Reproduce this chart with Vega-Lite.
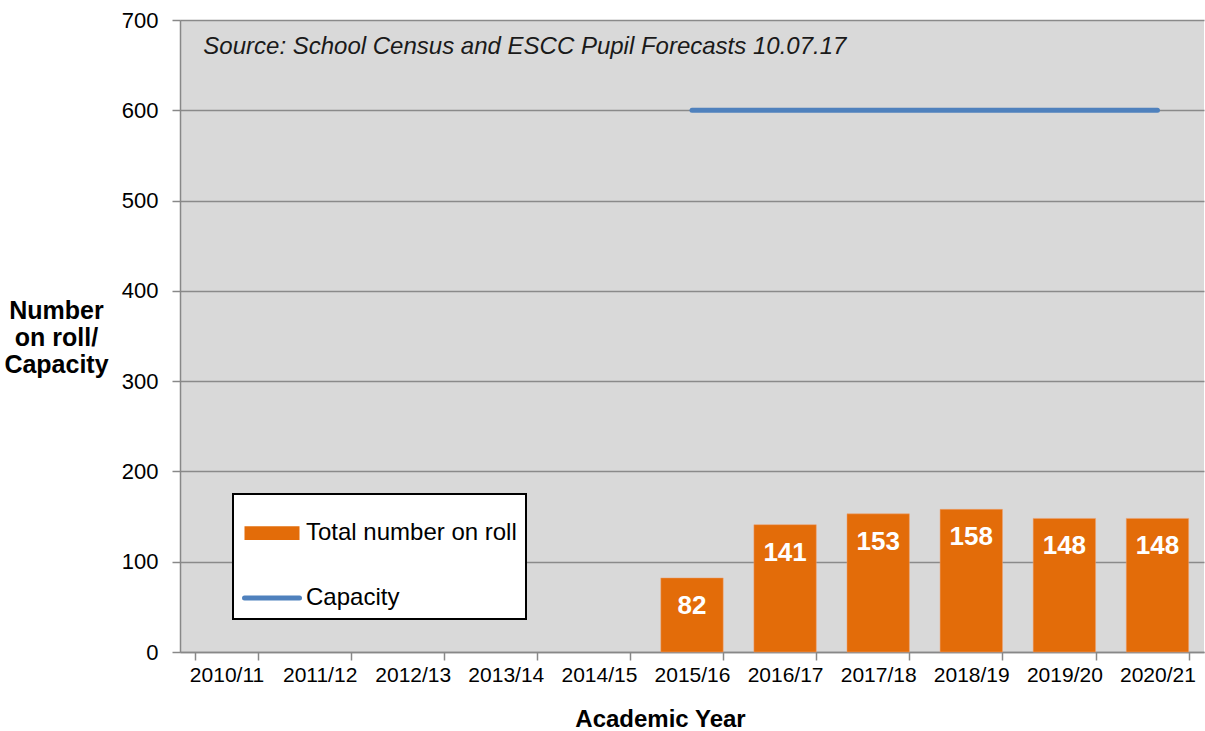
{
  "$schema": "https://vega.github.io/schema/vega-lite/v6.json",
  "width": 1024,
  "height": 632,
  "autosize": {"type": "none"},
  "padding": {"left": 180, "top": 20, "right": 1, "bottom": 79},
  "background": "white",
  "config": {
    "font": "Liberation Sans",
    "view": {"fill": "#D9D9D9", "stroke": null}
  },
  "data": {
    "values": [
      {"year": "2010/11", "roll": null, "capacity": null},
      {"year": "2011/12", "roll": null, "capacity": null},
      {"year": "2012/13", "roll": null, "capacity": null},
      {"year": "2013/14", "roll": null, "capacity": null},
      {"year": "2014/15", "roll": null, "capacity": null},
      {"year": "2015/16", "roll": 82, "capacity": 600},
      {"year": "2016/17", "roll": 141, "capacity": 600},
      {"year": "2017/18", "roll": 153, "capacity": 600},
      {"year": "2018/19", "roll": 158, "capacity": 600},
      {"year": "2019/20", "roll": 148, "capacity": 600},
      {"year": "2020/21", "roll": 148, "capacity": 600}
    ]
  },
  "encoding": {
    "x": {
      "field": "year",
      "type": "ordinal",
      "sort": null,
      "scale": {
        "domain": ["2010/11", "2011/12", "2012/13", "2013/14", "2014/15", "2015/16", "2016/17", "2017/18", "2018/19", "2019/20", "2020/21"],
        "paddingInner": 0.33,
        "paddingOuter": 0.165
      },
      "axis": {
        "title": "Academic Year",
        "titleFontSize": 24,
        "titleFontWeight": "bold",
        "titleColor": "black",
        "titleX": 480,
        "titleY": 67,
        "titleBaseline": "middle",
        "labelAngle": 0,
        "labelFontSize": 21,
        "labelColor": "black",
        "labelPadding": 4,
        "tickBand": "extent",
        "tickSize": 8,
        "tickColor": "#888888",
        "tickWidth": 1.5,
        "domainColor": "#888888",
        "domainWidth": 1.5,
        "grid": false
      }
    }
  },
  "layer": [
    {
      "transform": [{"filter": "datum.roll != null"}],
      "mark": {"type": "bar", "color": "#E36C09", "stroke": "#F0A070", "strokeWidth": 0.5},
      "encoding": {
        "y": {
          "field": "roll",
          "type": "quantitative",
          "scale": {"domain": [0, 700], "nice": false},
          "axis": {
            "values": [0, 100, 200, 300, 400, 500, 600, 700],
            "title": ["Number", "on roll/", "Capacity"],
            "titleAngle": 0,
            "titleAlign": "center",
            "titleBaseline": "middle",
            "titleX": -124,
            "titleY": 290,
            "titleFontSize": 25,
            "titleFontWeight": "bold",
            "titleColor": "black",
            "titleLineHeight": 27,
            "labelFontSize": 22,
            "labelColor": "black",
            "labelPadding": 14,
            "tickSize": 8,
            "tickColor": "#888888",
            "tickWidth": 1.5,
            "domainColor": "#888888",
            "domainWidth": 1.5,
            "grid": true,
            "gridColor": "#8A8A8A",
            "gridWidth": 1.5
          }
        }
      }
    },
    {
      "transform": [{"filter": "datum.roll != null"}],
      "mark": {
        "type": "text",
        "color": "white",
        "fontSize": 26,
        "fontWeight": "bold",
        "baseline": "middle",
        "dy": 28
      },
      "encoding": {
        "y": {"field": "roll", "type": "quantitative"},
        "text": {"field": "roll", "type": "quantitative"}
      }
    },
    {
      "transform": [{"filter": "datum.capacity != null"}],
      "mark": {"type": "line", "color": "#4F81BD", "strokeWidth": 5, "strokeCap": "round"},
      "encoding": {
        "y": {"field": "capacity", "type": "quantitative"}
      }
    },
    {
      "data": {"values": [{"t": "Source: School Census and ESCC Pupil Forecasts 10.07.17"}]},
      "mark": {
        "type": "text",
        "align": "left",
        "baseline": "middle",
        "fontStyle": "italic",
        "fontSize": 24,
        "color": "#1A1A1A",
        "dx": 8
      },
      "encoding": {
        "x": {"datum": "2010/11", "bandPosition": 0},
        "y": {"datum": 670, "type": "quantitative"},
        "text": {"field": "t"}
      }
    },
    {
      "data": {"values": [{"series": "Total number on roll"}, {"series": "Capacity"}]},
      "mark": {"type": "point", "filled": true, "opacity": 0},
      "encoding": {
        "x": {"datum": "2010/11"},
        "y": {"datum": 0, "type": "quantitative"},
        "color": {
          "field": "series",
          "type": "nominal",
          "scale": {
            "domain": ["Total number on roll", "Capacity"],
            "range": ["#E36C09", "#4F81BD"]
          },
          "legend": {
            "orient": "none",
            "legendX": 53,
            "legendY": 474,
            "title": null,
            "fillColor": "white",
            "strokeColor": "black",
            "padding": 9,
            "rowPadding": 18,
            "symbolSize": 3025,
            "labelFontSize": 24,
            "labelOffset": 4,
            "labelColor": "black",
            "labelLimit": 400,
            "encode": {
              "legend": {"update": {"strokeWidth": {"value": 2}}},
              "symbols": {
                "update": {
                  "shape": [{"test": "datum.value === 'Capacity'", "value": "M-1,0H1"}, {"value": "M-1,-0.25H1V0.25H-1Z"}],
                  "stroke": [{"test": "datum.value === 'Capacity'", "value": "#4F81BD"}, {"value": "transparent"}],
                  "strokeWidth": {"value": 5},
                  "strokeCap": {"value": "round"},
                  "opacity": {"value": 1}
                }
              }
            }
          }
        }
      }
    }
  ]
}
